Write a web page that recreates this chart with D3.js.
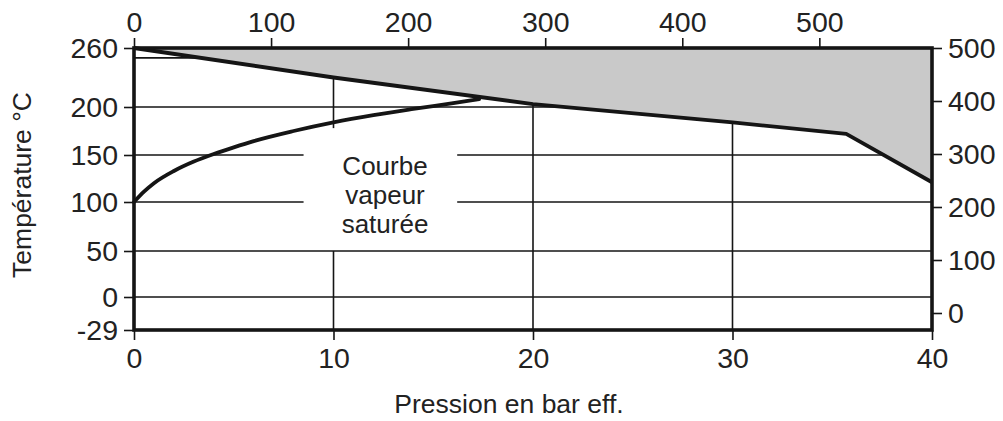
<!DOCTYPE html>
<html><head><meta charset="utf-8">
<script src="https://cdn.jsdelivr.net/npm/d3@7/dist/d3.min.js"></script>
<style>
html,body{margin:0;padding:0;background:#fff;}
svg{display:block;}
text{font-family:"Liberation Sans",Arial,Helvetica,sans-serif;fill:#222;}
</style></head><body>
<svg id="c" width="1003" height="421"></svg>
<script>
// ---- data ----
const barTicks = [0, 10, 20, 30, 40];
const psiTicks = [0, 100, 200, 300, 400, 500];
const celsiusTicks = [260, 200, 150, 100, 50, 0, -29];
const fahrenheitTicks = [0, 100, 200, 300, 400, 500];
const gridCelsius = [250, 200, 150, 100, 50, 0];
const gridBar = [10, 20, 30];
// limit curve (max temperature vs pressure)
const limitBar = [0, 10, 20, 30, 35.7, 40];
const limitC   = [260, 230, 203, 184, 172, 121];
// saturated steam curve
const steamBar = [0, 0.5, 1, 2, 3, 4, 5, 6, 8, 10, 12, 14, 16, 17.3];
const steamC   = [100, 111, 120, 133, 143, 151, 158, 164.5, 175, 184, 191.5, 198, 204, 208];
const labelLines = ["Courbe", "vapeur", "saturée"];

// ---- scales ----
const x = d3.scaleLinear().domain([0, 40]).range([134, 932]);
const xPsi = d3.scaleLinear().domain([0, 580]).range([134, 929]);
const y = d3.scaleLinear().domain([-29, 0, 50, 100, 150, 200, 260]).range([330, 297, 251, 202, 155, 107, 48]);
const yF = d3.scaleLinear().domain([0, 500]).range([313, 48]);

const svg = d3.select("#c");
const ink = "#151515";

// ---- gridlines ----
const g = svg.append("g").attr("stroke", ink).attr("stroke-width", 1.6);
const gapBar = [8.5, 16.2];
gridCelsius.forEach(c => {
  if (c === 150 || c === 100) {
    g.append("line").attr("x1", x(0)).attr("x2", x(gapBar[0])).attr("y1", y(c)).attr("y2", y(c));
    g.append("line").attr("x1", x(gapBar[1])).attr("x2", x(40)).attr("y1", y(c)).attr("y2", y(c));
  } else {
    g.append("line").attr("x1", x(0)).attr("x2", x(40)).attr("y1", y(c)).attr("y2", y(c));
  }
});
gridBar.forEach(b => {
  if (b === 10) {
    g.append("line").attr("x1", x(b)).attr("x2", x(b)).attr("y1", y(260)).attr("y2", y(178));
    g.append("line").attr("x1", x(b)).attr("x2", x(b)).attr("y1", y(50)).attr("y2", y(-29));
  } else {
    g.append("line").attr("x1", x(b)).attr("x2", x(b)).attr("y1", y(260)).attr("y2", y(-29));
  }
});

// ---- grey region above the limit curve ----
const limitPts = limitBar.map((b, i) => [b, limitC[i]]);
const area = d3.area().x(d => x(d[0])).y0(y(260)).y1(d => y(d[1]));
svg.append("path").datum(limitPts).attr("d", area).attr("fill", "#c9c9c9");

// ---- curves ----
const line = d3.line().x(d => x(d[0])).y(d => y(d[1]));
svg.append("path").datum(limitPts).attr("d", line)
  .attr("fill", "none").attr("stroke", ink).attr("stroke-width", 3.8).attr("stroke-linejoin", "round");
const steamPts = steamBar.map((b, i) => [b, steamC[i]]);
svg.append("path").datum(steamPts).attr("d", d3.line().curve(d3.curveMonotoneX).x(d => x(d[0])).y(d => y(d[1])))
  .attr("fill", "none").attr("stroke", ink).attr("stroke-width", 3.8).attr("stroke-linecap", "round");

// ---- axes ----
const fs = 28.5;
const fmt = d => String(d);
function styleAxis(sel) {
  sel.select(".domain").remove();
  sel.selectAll(".tick line").attr("stroke", ink).attr("stroke-width", 1.6);
  sel.selectAll(".tick text").style("font-size", fs + "px").attr("fill", "#222");
}
svg.append("g").attr("transform", `translate(${x(0)},0)`)
  .call(d3.axisLeft(y).tickValues(celsiusTicks).tickSize(10).tickPadding(6).tickFormat(fmt))
  .call(styleAxis);
svg.append("g").attr("transform", `translate(${x(40)},0)`)
  .call(d3.axisRight(yF).tickValues(fahrenheitTicks).tickSize(10).tickPadding(6).tickFormat(fmt))
  .call(styleAxis);
svg.append("g").attr("transform", `translate(0,${y(-29)})`)
  .call(d3.axisBottom(x).tickValues(barTicks).tickSize(10).tickPadding(8).tickFormat(fmt))
  .call(styleAxis);
svg.append("g").attr("transform", `translate(0,${y(260)})`)
  .call(d3.axisTop(xPsi).tickValues(psiTicks).tickSize(10).tickPadding(6).tickFormat(fmt))
  .call(styleAxis);

// ---- frame ----
svg.append("rect").attr("x", x(0)).attr("y", y(260)).attr("width", x(40) - x(0)).attr("height", y(-29) - y(260))
  .attr("fill", "none").attr("stroke", ink).attr("stroke-width", 3.6);

// ---- titles ----
svg.append("text").attr("x", 509).attr("y", 413).attr("text-anchor", "middle")
  .style("font-size", "26.5px").text("Pression en bar eff.");
svg.append("text").attr("transform", "translate(31,185) rotate(-90)").attr("text-anchor", "middle")
  .style("font-size", "26.5px").text("Température °C");

// ---- label ----
const lbl = svg.append("text").attr("text-anchor", "middle").style("font-size", "26px");
labelLines.forEach((t, i) => {
  lbl.append("tspan").attr("x", 385).attr("y", 175 + i * 29).text(t);
});
</script>
</body></html>
